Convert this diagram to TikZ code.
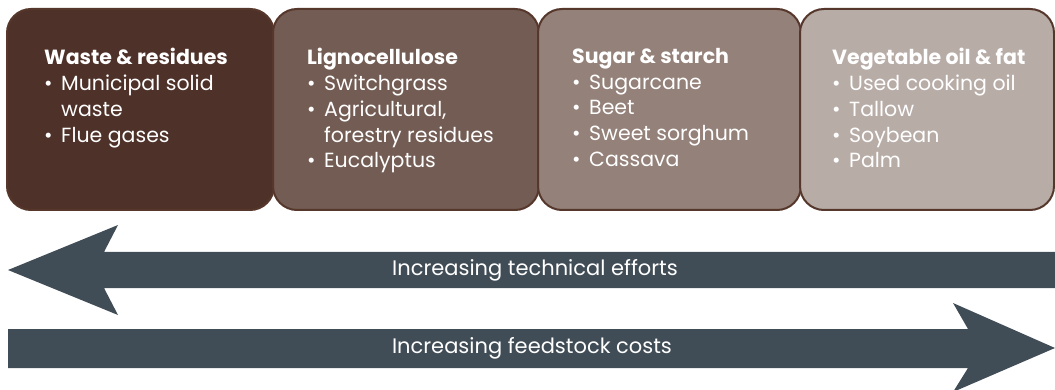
\documentclass[tikz,border=0pt]{standalone}
\usepackage{fontspec}
\setmainfont{Poppins}
\usepackage{tikz}
\usetikzlibrary{positioning}
\definecolor{wastebrown}{HTML}{4E3128}
\definecolor{lignobrown}{HTML}{735C53}
\definecolor{sugarbrown}{HTML}{948179}
\definecolor{oilbrown}{HTML}{B8ACA7}
\definecolor{edgebrown}{HTML}{56372C}
\definecolor{slate}{HTML}{414D56}
\newcommand{\bul}{\makebox[17pt][l]{\textbullet}}
\newcommand{\ind}{\hspace*{17pt}}
\tikzset{
    %Define style for boxes
    feedbox/.style={
           rectangle,
           rounded corners=24pt,
           draw=edgebrown, line width=2pt,
           minimum height=201pt,
           anchor=north west,
           inner sep=0pt},
    %Define style for box texts
    feedtext/.style={
           text=white,
           align=left,
           anchor=north west,
           inner sep=0pt,
           font=\fontsize{20.5}{25.8}\selectfont},
    % Define arrow style
    effort/.style={
           fill=slate},
    efforttext/.style={
           text=white,
           font=\fontsize{21}{24}\selectfont}
}
\begin{document}
\begin{tikzpicture}[x=1pt,y=-1pt]
\useasboundingbox (0,0) rectangle (1055,390);
% feedstock boxes
\node[feedbox, fill=wastebrown, minimum width=267pt](waste) at (6,8){};
\node[feedbox, fill=lignobrown, minimum width=266pt](ligno) at (272,8){};
\node[feedbox, fill=sugarbrown, minimum width=263pt](sugar) at (537,8){};
\node[feedbox, fill=oilbrown, minimum width=254pt](oil) at (799,8){};
\node[feedtext](wastetxt) at ([shift={(38,40)}]waste.north west){\textbf{Waste \& residues}\\
\bul Municipal solid\\ \ind waste\\ \bul Flue gases};
\node[feedtext](lignotxt) at ([shift={(35,40)}]ligno.north west){\textbf{Lignocellulose}\\
\bul Switchgrass\\ \bul Agricultural,\\ \ind forestry residues\\ \bul Eucalyptus};
\node[feedtext](sugartxt) at ([shift={(35,40)}]sugar.north west){\textbf{Sugar \& starch}\\
\bul Sugarcane\\ \bul Beet\\ \bul Sweet sorghum\\ \bul Cassava};
\node[feedtext](oiltxt) at ([shift={(33,40)}]oil.north west){\textbf{Vegetable oil \& fat}\\
\bul Used cooking oil\\ \bul Tallow\\ \bul Soybean\\ \bul Palm};
% arrows
\fill[effort] (8,270) -- (118,225) -- (104,252) -- (1055,252) -- (1055,288)
	-- (104,288) -- (118,315) -- cycle;
\fill[effort] (1055,348) -- (953,303) -- (968,329) -- (8,329) -- (8,368)
	-- (968,368) -- (953,392) -- cycle;
\node[efforttext](tech) at (535,270){Increasing technical efforts};
\node[efforttext](cost) at (532,348){Increasing feedstock costs};
\end{tikzpicture}
\end{document}
